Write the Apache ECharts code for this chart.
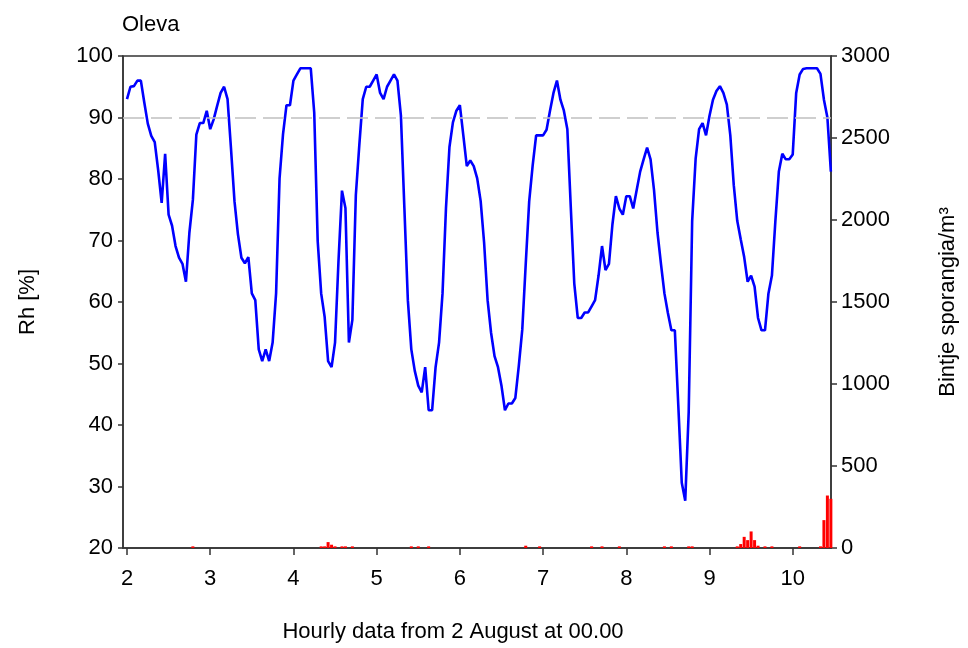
<!DOCTYPE html>
<html>
<head>
<meta charset="utf-8">
<title>Oleva</title>
<script src="https://cdn.jsdelivr.net/npm/echarts@6.0.0/dist/echarts.min.js"></script>
<style>
  html, body { margin: 0; padding: 0; background: #fff; }
  #chart { width: 968px; height: 648px; }
</style>
</head>
<body>
<div id="chart"></div>
<script>
// Rh [%] hourly, one array per day (starting 2 August 00.00)
const rhDay2 = [93, 95, 95.1, 96, 96, 92.4, 89, 87, 86, 81.4, 76.1, 84.1, 74.2, 72.4, 69.1, 67.2, 66.2, 63.3, 71.3, 76.6, 87.2, 89.1, 89.1, 91.1]
const rhDay3 = [88.1, 89.7, 91.9, 94, 95, 93, 84.9, 76.4, 71, 67.2, 66.3, 67.3, 61.4, 60.3, 52.3, 50.4, 52.3, 50.4, 53.4, 61.4, 80.1, 87.3, 92, 92]
const rhDay4 = [96, 97, 98, 98, 98, 98, 90.8, 69.9, 61.4, 57.6, 50.4, 49.4, 53.4, 66.7, 78.1, 75.3, 53.4, 57.1, 77.4, 85.5, 93, 95, 95, 96]
const rhDay5 = [97, 94, 93, 95, 96, 97, 96, 90.3, 75.3, 60.3, 52.3, 48.8, 46.4, 45.3, 49.4, 42.4, 42.4, 49.4, 53.4, 61.4, 75.3, 85.2, 89.2, 91.1]
const rhDay6 = [92, 87.1, 82.1, 83, 82.1, 80.1, 76.4, 69.6, 60.3, 55, 51.2, 49.4, 46.4, 42.4, 43.5, 43.5, 44.4, 49.6, 55.5, 66.2, 76.4, 82.2, 87.1, 87.1]
const rhDay7 = [87.1, 88, 91.1, 94, 96, 92.9, 91.1, 88.1, 75.3, 63, 57.4, 57.4, 58.3, 58.3, 59.3, 60.3, 64.3, 69.1, 65.2, 66.2, 72.6, 77.2, 75.2, 74.2]
const rhDay8 = [77.2, 77.2, 75.2, 78.2, 81.2, 83.2, 85.1, 83.2, 78.2, 71.3, 66.2, 61.4, 58.2, 55.4, 55.4, 43.2, 30.6, 27.7, 42.1, 73.2, 83.3, 88.1, 89.1, 87.1]
const rhDay9 = [90.3, 92.9, 94.3, 95.1, 94, 92.1, 87.1, 79, 73.2, 70.2, 67.3, 63.3, 64.3, 62.5, 57.4, 55.4, 55.4, 61.4, 64.3, 73.2, 81.2, 84.1, 83.2, 83.2]
const rhDay10 = [84, 94, 97, 97.9, 98, 98, 98, 98, 97.1, 92.9, 90, 81.2]

// Bintje sporangia/m3 (hour index -> count), zero elsewhere
const sporeHours = [19, 56, 57, 58, 59, 60, 62, 63, 65, 82, 84, 87, 115, 119, 134, 137, 142, 155, 157, 162, 163, 176, 177, 178, 179, 180, 181, 182, 184, 186, 194, 200, 201, 202, 203]
const sporeValues = [10, 10, 10, 36, 20, 10, 10, 10, 10, 10, 10, 10, 14, 10, 10, 10, 10, 10, 10, 10, 10, 10, 24, 68, 48, 101, 48, 14, 10, 10, 10, 10, 170, 320, 300]

const dayTicks = [2, 3, 4, 5, 6, 7, 8, 9, 10]
const rhThreshold = 90

const rh = [].concat(rhDay2, rhDay3, rhDay4, rhDay5, rhDay6, rhDay7, rhDay8, rhDay9, rhDay10)
const rhData = rh.map((v, h) => [2 + h / 24, v])
const sporeData = sporeHours.map((h, i) => [2 + h / 24, sporeValues[i]])

const font = 'Liberation Sans, Arial, sans-serif'
const axisColor = '#333'

const chart = echarts.init(document.getElementById('chart'))

const option = {
  animation: false,
  textStyle: { fontFamily: font, color: '#000' },
  title: {
    text: 'Oleva',
    left: 117,
    top: 9,
    textStyle: { fontFamily: font, fontSize: 22, fontWeight: 'normal', color: '#000' }
  },
  grid: {
    left: 123,
    right: 137,
    top: 56,
    bottom: 97,
    show: true,
    borderColor: axisColor,
    borderWidth: 1.5
  },
  xAxis: {
    type: 'value',
    min: 1.952,
    max: 10.46,
    name: 'Hourly data from 2 August at 00.00',
    nameLocation: 'middle',
    nameGap: 73,
    nameTextStyle: { fontFamily: font, fontSize: 22, color: '#000', padding: [0, 48, 0, 0] },
    axisLine: { lineStyle: { color: axisColor, width: 1.5 } },
    axisTick: { inside: false, length: 7, customValues: dayTicks, lineStyle: { color: axisColor, width: 1.5 } },
    axisLabel: { customValues: dayTicks, fontFamily: font, fontSize: 22, color: '#000', margin: 20 },
    splitLine: { show: false }
  },
  yAxis: [
    {
      type: 'value',
      min: 20,
      max: 100,
      interval: 10,
      name: 'Rh [%]',
      nameLocation: 'middle',
      nameGap: 84,
      nameTextStyle: { fontFamily: font, fontSize: 22, color: '#000' },
      axisLine: { show: true, lineStyle: { color: axisColor, width: 1.5 } },
      axisTick: { show: true, length: 5, lineStyle: { color: axisColor, width: 1.5 } },
      axisLabel: { fontFamily: font, fontSize: 22, color: '#000', margin: 10 },
      splitLine: { show: false }
    },
    {
      type: 'value',
      min: 0,
      max: 3000,
      interval: 500,
      position: 'right',
      name: 'Bintje sporangia/m³',
      nameLocation: 'middle',
      nameGap: 106,
      nameTextStyle: { fontFamily: font, fontSize: 22, color: '#000' },
      axisLine: { show: true, lineStyle: { color: axisColor, width: 1.5 } },
      axisTick: { show: true, length: 6, lineStyle: { color: axisColor, width: 1.5 } },
      axisLabel: { fontFamily: font, fontSize: 22, color: '#000', margin: 10, formatter: v => String(v) },
      splitLine: { show: false }
    }
  ],
  series: [
    {
      name: 'Sporangia',
      type: 'bar',
      yAxisIndex: 1,
      data: sporeData,
      barWidth: 3,
      itemStyle: { color: '#ff0000' },
      clip: true,
      z: 2
    },
    {
      name: 'Rh',
      type: 'line',
      yAxisIndex: 0,
      data: rhData,
      showSymbol: false,
      lineStyle: { color: '#0000ff', width: 2.6 },
      itemStyle: { color: '#0000ff' },
      z: 3,
      markLine: {
        silent: true,
        symbol: 'none',
        label: { show: false },
        lineStyle: { color: '#c0c0c0', type: [21, 7], width: 1.5 },
        data: [{ yAxis: rhThreshold }]
      }
    }
  ]
}

chart.setOption(option)
</script>
</body>
</html>
